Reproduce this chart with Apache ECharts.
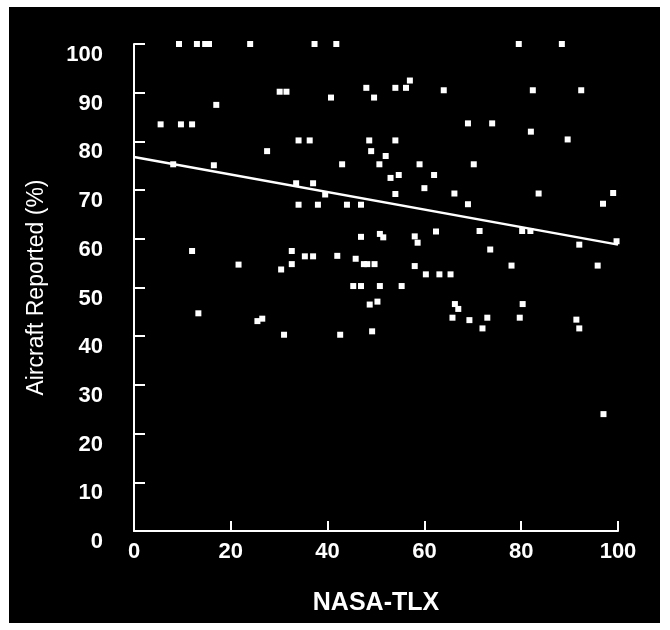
<!doctype html>
<html>
	<head>
		<meta charset="UTF-8">
		<title>NASA-TLX vs Aircraft Reported</title>
		<style>
			html, body { margin: 0; padding: 0; background: #fff; }
			#chart { width: 670px; height: 630px; }
		</style>
	</head>
	<body>
		<div id="chart"></div>
		<script src="https://cdn.jsdelivr.net/npm/echarts@6/dist/echarts.min.js"></script>
		<script>
			// NASA-TLX score (x) and aircraft reported % (y)
			var tlx = [
				9.3, 13, 14.7, 15.5, 24, 37.3, 41.8, 79.5, 88.4,
				57, 48, 54, 56.2, 64, 82.4, 92.4, 30.1, 31.5, 40.7, 49.6,
				17, 5.5, 9.7, 12, 69, 74, 82,
				34, 36.3, 48.6, 54, 89.6, 27.5, 49, 52,
				16.5, 8.1, 43, 50.7, 59, 70.2, 62, 54.7, 53,
				33.5, 37, 60, 39.5, 54, 66.2, 83.6, 99,
				34, 38, 44, 46.9, 69, 96.9,
				46.9, 50.8, 51.5, 58, 58.6, 62.4, 71.4, 80.2, 81.9, 92, 99.7,
				12, 32.6, 73.6, 35.3, 37, 42, 45.8,
				21.6, 32.6, 47.5, 48.2, 49.7, 58, 78, 95.8, 30.4,
				60.3, 63.1, 65.4, 45.3, 46.9, 50.8, 55.3,
				48.7, 50.3, 66.3, 67, 80.3, 13.3,
				65.8, 69.3, 73, 79.7, 91.4, 25.5, 26.5,
				72, 92, 31, 42.6, 49.2, 97
			];
			var reported = [
				100, 100, 100, 100, 100, 100, 100, 100, 100,
				92.5, 91, 91, 91, 90.5, 90.5, 90.5, 90.2, 90.2, 89, 89,
				87.5, 83.5, 83.5, 83.5, 83.7, 83.7, 82,
				80.2, 80.2, 80.2, 80.2, 80.4, 78, 78, 77,
				75.1, 75.3, 75.3, 75.3, 75.3, 75.3, 73.1, 73.1, 72.5,
				71.4, 71.4, 70.4, 69.1, 69.2, 69.3, 69.3, 69.4,
				67, 67, 67, 67, 67.1, 67.2,
				60.4, 61, 60.3, 60.5, 59.2, 61.5, 61.6, 61.6, 61.6, 58.8, 59.5,
				57.5, 57.5, 57.8, 56.4, 56.4, 56.5, 55.9,
				54.7, 54.8, 54.8, 54.8, 54.8, 54.4, 54.5, 54.5, 53.7,
				52.7, 52.7, 52.7, 50.3, 50.3, 50.3, 50.3,
				46.5, 47.1, 46.6, 45.6, 46.6, 44.7,
				43.8, 43.3, 43.8, 43.8, 43.4, 43.1, 43.6,
				41.6, 41.6, 40.3, 40.3, 41, 24
			];
			// regression line end points
			var fitX = [0, 100];
			var fitY = [76.8, 58.8];

			var points = [];
			for (var i = 0; i < tlx.length; i++) {
				points.push([tlx[i], reported[i]]);
			}
			var fitLine = [];
			for (var j = 0; j < fitX.length; j++) {
				fitLine.push([fitX[j], fitY[j]]);
			}

			var myChart = echarts.init(document.getElementById('chart'));
			var font = '"Liberation Sans", Arial, Helvetica, sans-serif';

			var option = {
				backgroundColor: '#fff',
				animation: false,
				graphic: [{
					type: 'rect',
					z: -10,
					shape: { x: 9, y: 7, width: 651, height: 616 },
					style: { fill: '#000' }
				}],
				grid: {
					left: 134,
					right: 52,
					top: 44,
					bottom: 99,
					containLabel: false
				},
				xAxis: {
					type: 'value',
					min: 0,
					max: 100,
					interval: 20,
					name: 'NASA-TLX',
					nameLocation: 'middle',
					nameGap: 60,
					nameTextStyle: {
						color: '#fff',
						fontSize: 25,
						fontWeight: 'bold',
						fontFamily: font
					},
					axisLine: { lineStyle: { color: '#fff', width: 2 } },
					axisTick: { inside: true, length: 10, lineStyle: { color: '#fff', width: 2 } },
					axisLabel: {
						color: '#fff',
						fontSize: 22,
						fontWeight: 'bold',
						fontFamily: font,
						margin: 10
					},
					splitLine: { show: false }
				},
				yAxis: {
					type: 'value',
					min: 0,
					max: 100,
					interval: 10,
					name: 'Aircraft Reported (%)',
					nameLocation: 'middle',
					nameRotate: 90,
					nameGap: 86,
					nameTextStyle: {
						color: '#fff',
						fontSize: 23,
						fontFamily: font
					},
					axisLine: { lineStyle: { color: '#fff', width: 2 } },
					axisTick: { inside: true, length: 11, lineStyle: { color: '#fff', width: 2 } },
					axisLabel: {
						color: '#fff',
						fontSize: 22,
						fontWeight: 'bold',
						fontFamily: font,
						margin: 31,
						verticalAlign: 'top'
					},
					splitLine: { show: false }
				},
				series: [{
					type: 'scatter',
					data: points,
					symbol: 'rect',
					symbolSize: 6,
					itemStyle: { color: '#fff', opacity: 1 }
				}, {
					type: 'line',
					data: fitLine,
					showSymbol: false,
					lineStyle: { color: '#fff', width: 2.5 }
				}]
			};

			myChart.setOption(option);
		</script>
	</body>
</html>
